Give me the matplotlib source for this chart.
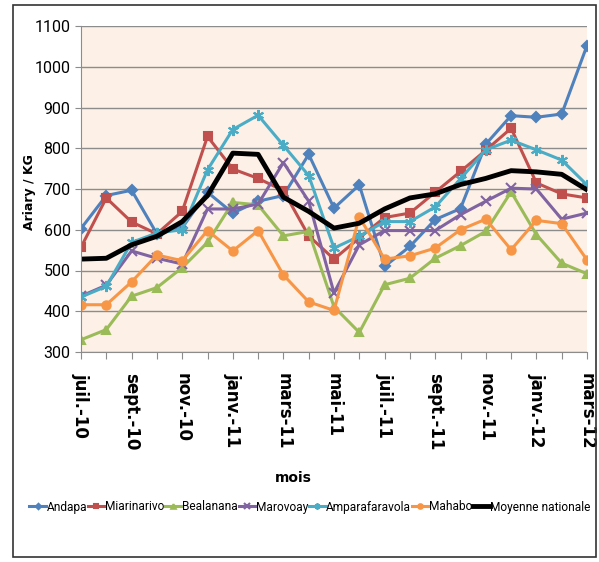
import matplotlib
matplotlib.use("Agg")
import matplotlib.pyplot as plt
from matplotlib.patches import Rectangle
from matplotlib.font_manager import FontProperties

months = ["juil.-10", "août-10", "sept.-10", "oct.-10", "nov.-10", "déc.-10",
          "janv.-11", "févr.-11", "mars-11", "avr.-11", "mai-11", "juin-11",
          "juil.-11", "août-11", "sept.-11", "oct.-11", "nov.-11", "déc.-11",
          "janv.-12", "févr.-12", "mars-12"]

andapa = [603, 684, 697, 590, 605, 692, 641, 670, 684, 785, 653, 710, 510, 559, 625, 652, 810, 880, 876, 884, 1052]
miarinarivo = [557, 678, 619, 590, 645, 829, 749, 726, 696, 585, 528, 580, 630, 641, 692, 743, 795, 849, 715, 688, 678]
bealanana = [330, 355, 437, 458, 507, 569, 667, 661, 585, 596, 411, 348, 465, 481, 530, 561, 596, 693, 588, 518, 492]
marovoay = [437, 464, 548, 530, 516, 651, 651, 663, 765, 670, 445, 563, 598, 598, 598, 637, 670, 702, 700, 626, 641]
amparafaravola = [435, 461, 569, 592, 600, 747, 846, 881, 807, 733, 555, 584, 620, 620, 656, 725, 796, 820, 796, 771, 710]
mahabo = [416, 416, 472, 538, 524, 598, 548, 598, 489, 423, 402, 631, 528, 536, 555, 600, 626, 551, 623, 615, 526]
moyenne = [528, 530, 563, 584, 620, 684, 788, 785, 680, 645, 604, 616, 651, 678, 688, 711, 726, 745, 742, 736, 698]

series = [
    ("Andapa", andapa, "#4F81BD", "D", 5),
    ("Miarinarivo", miarinarivo, "#C0504D", "s", 6),
    ("Bealanana", bealanana, "#9BBB59", "^", 6),
    ("Marovoay", marovoay, "#8064A2", "x", 7),
    ("Amparafaravola", amparafaravola, "#4BACC6", (6, 2, 0), 8),
    ("Mahabo", mahabo, "#F79646", "o", 6),
]

plt.rcParams['font.family'] = ['DejaVu Sans']
ytick_font = FontProperties(family='Roboto', size=11.5)
leg_font = FontProperties(family='Roboto', size=8.6)

fig = plt.figure(figsize=(5.99, 5.62), dpi=100)
ax = fig.add_axes([81/599, 1 - 352/562, (587-81)/599, (352-26)/562])
ax.set_facecolor("#FDF0E6")

x = list(range(len(months)))
for name, vals, col, mk, ms in series:
    ax.plot(x, vals, color=col, lw=2.2, marker=mk, markersize=ms,
            markeredgecolor=col, markerfacecolor=col, markeredgewidth=1.5, label=name)
ax.plot(x, moyenne, color="black", lw=3.5, label="Moyenne nationale")

ax.set_xlim(0, len(months) - 1)
ax.set_ylim(300, 1100)
ax.set_yticks(range(300, 1101, 100))
ax.yaxis.grid(True, color="#8C8C8C", lw=1)
ax.set_axisbelow(True)
ax.set_xticks(x)
ax.set_xticklabels([m if i % 2 == 0 else "" for i, m in enumerate(months)],
                   rotation=270, fontsize=12, fontweight="bold")
for lab in ax.get_yticklabels():
    lab.set_fontproperties(ytick_font)
ax.tick_params(axis='x', length=5, color="#8C8C8C", pad=10)
ax.tick_params(axis='y', length=4, color="#8C8C8C")
for s in ["top", "right"]:
    ax.spines[s].set_visible(False)
ax.spines["left"].set_color("#8C8C8C")
ax.spines["bottom"].set_color("#8C8C8C")

fig.text(30/599, 1 - 192/562, "Ariary / KG", rotation=90, ha="center", va="center",
         fontsize=9, fontweight="bold")
fig.text(293/599, 1 - 478/562, "mois", ha="center", va="center", fontsize=10,
         fontweight="bold")

handles, labels = ax.get_legend_handles_labels()
leg = fig.legend(handles, labels, loc="center", bbox_to_anchor=(310/599, 1 - 507/562),
                 ncol=7, frameon=False, prop=leg_font, handlelength=1.4, handletextpad=0.05,
                 columnspacing=0.05, markerscale=0.55, borderpad=0, borderaxespad=0)

fig.patches.append(Rectangle((13/599, 5/562), (596-13)/599, (557-5)/562,
                             transform=fig.transFigure, fill=False, edgecolor="#333333", lw=1.2))

fig.savefig("out.png", dpi=100)
